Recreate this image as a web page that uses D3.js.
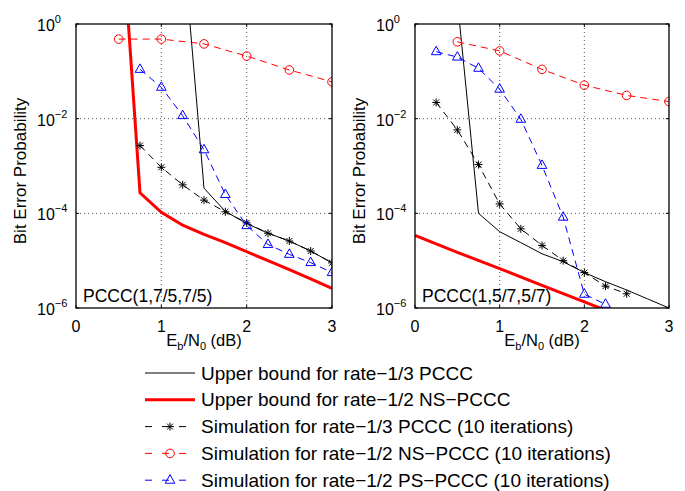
<!DOCTYPE html>
<html>
<head>
<meta charset="utf-8">
<script src="https://cdn.jsdelivr.net/npm/d3@7"></script>
<style>
  body { margin: 0; background: #fff; }
  text { font-family: "Liberation Sans", Arial, sans-serif; fill: #000; }
</style>
</head>
<body>
<script>
// Tick labels
var xTicks = [0, 1, 2, 3];
var yTicks = [1, 1e-2, 1e-4, 1e-6];
var yTickExp = ['0', '\u22122', '\u22124', '\u22126'];

// Left panel: PCCC(1,7/5,7/5)
var leftBound13X = [1.25, 1.5, 1.75, 2, 2.25, 2.5, 2.75, 3];
var leftBound13 = [66, 3.4e-4, 1.1e-4, 6.1e-5, 3.8e-5, 2.6e-5, 1.6e-5, 9e-6];
var leftBound12X = [0.5, 0.75, 1, 1.25, 1.5, 1.75, 2, 2.25, 2.5, 2.75, 3];
var leftBound12 = [1000, 2.7e-4, 1.05e-4, 5.6e-5, 3.6e-5, 2.4e-5, 1.55e-5, 1.0e-5, 6.5e-6, 4.1e-6, 2.6e-6];
var leftSim13X = [0.75, 1, 1.25, 1.5, 1.75, 2, 2.25, 2.5, 2.75, 3];
var leftSim13 = [2.7e-3, 9.4e-4, 4e-4, 1.9e-4, 1.08e-4, 6.3e-5, 3.8e-5, 2.6e-5, 1.6e-5, 9e-6];
var leftSimNSX = [0.5, 1, 1.5, 2, 2.5, 3];
var leftSimNS = [0.48, 0.48, 0.38, 0.21, 0.107, 0.060];
var leftSimPSX = [0.75, 1, 1.25, 1.5, 1.75, 2, 2.25, 2.5, 2.75, 3];
var leftSimPS = [0.11, 0.046, 0.0116, 2.2e-3, 2.5e-4, 5.5e-5, 2.2e-5, 1.36e-5, 9.1e-6, 5.6e-6];

// Right panel: PCCC(1,5/7,5/7)
var rightBound13X = [0.5, 0.75, 1, 1.25, 1.5, 1.75, 2, 2.25, 2.5, 2.75, 3];
var rightBound13 = [3.2, 1e-4, 4.1e-5, 2.4e-5, 1.4e-5, 9.5e-6, 5.6e-6, 3.6e-6, 2.4e-6, 1.55e-6, 1e-6];
var rightBound12X = [0, 0.5, 1, 1.5, 2, 2.5, 3];
var rightBound12 = [3.4e-5, 1.5e-5, 6.8e-6, 3.0e-6, 1.35e-6, 6e-7, 2.7e-7];
var rightSim13X = [0.25, 0.5, 0.75, 1, 1.25, 1.5, 1.75, 2, 2.25, 2.5];
var rightSim13 = [0.022, 5.8e-3, 1.07e-3, 1.58e-4, 4.7e-5, 2.1e-5, 1.0e-5, 5.6e-6, 2.9e-6, 2.0e-6];
var rightSimNSX = [0.5, 1, 1.5, 2, 2.5, 3];
var rightSimNS = [0.42, 0.27, 0.11, 0.051, 0.031, 0.023];
var rightSimPSX = [0.25, 0.5, 0.75, 1, 1.25, 1.5, 1.75, 2, 2.25];
var rightSimPS = [0.26, 0.20, 0.116, 0.042, 9.7e-3, 1.03e-3, 8.3e-5, 1.95e-6, 1.2e-6];

var legendLabels = [
  'Upper bound for rate\u22121/3 PCCC',
  'Upper bound for rate\u22121/2 NS\u2212PCCC',
  'Simulation for rate\u22121/3 PCCC (10 iterations)',
  'Simulation for rate\u22121/2 NS\u2212PCCC (10 iterations)',
  'Simulation for rate\u22121/2 PS\u2212PCCC (10 iterations)'
];

// styles per series, in legend order
var styles = [
  {color: '#000', width: 1, dash: null, marker: null},
  {color: '#ff0000', width: 3, dash: null, marker: null},
  {color: '#000', width: 1, dash: '7,5', marker: 'star'},
  {color: '#ff0000', width: 1, dash: '7,5', marker: 'circle'},
  {color: '#0000ff', width: 1, dash: '7,5', marker: 'triangle'}
];

function zipXY(xs, ys) {
  return xs.map(function(x, i) { return {x: x, y: ys[i]}; });
}

var panels = [
  {
    label: 'PCCC(1,7/5,7/5)', x0: 76, x1: 332,
    series: [zipXY(leftBound13X, leftBound13), zipXY(leftBound12X, leftBound12),
             zipXY(leftSim13X, leftSim13), zipXY(leftSimNSX, leftSimNS), zipXY(leftSimPSX, leftSimPS)]
  },
  {
    label: 'PCCC(1,5/7,5/7)', x0: 415, x1: 669,
    series: [zipXY(rightBound13X, rightBound13), zipXY(rightBound12X, rightBound12),
             zipXY(rightSim13X, rightSim13), zipXY(rightSimNSX, rightSimNS), zipXY(rightSimPSX, rightSimPS)]
  }
];

// note: "top" is taken by window.top, so use other names
var plotTop = 24, plotBottom = 308;

var svg = d3.select('body').append('svg')
  .attr('width', 685)
  .attr('height', 491);

var y = d3.scaleLog().domain([1e-6, 1]).range([plotBottom, plotTop]);

function markerPath(type) {
  if (type === 'star') return 'M-4,0H4M0,-4V4M-3,-3L3,3M-3,3L3,-3';
  if (type === 'triangle') return 'M0,-5.5L4.8,3L-4.8,3Z';
  return null;
}

function drawMarker(g, type, color) {
  if (type === 'circle') {
    g.append('circle').attr('r', 4.3).attr('fill', 'none')
      .attr('stroke', color).attr('stroke-width', 1);
  } else {
    g.append('path').attr('d', markerPath(type)).attr('fill', 'none')
      .attr('stroke', color).attr('stroke-width', 1);
  }
}

panels.forEach(function(p, pi) {
  var x = d3.scaleLinear().domain([0, 3]).range([p.x0, p.x1]);
  var g = svg.append('g');

  var clipId = 'clip' + pi;
  svg.append('clipPath').attr('id', clipId)
    .append('rect')
      .attr('x', p.x0).attr('y', plotTop)
      .attr('width', p.x1 - p.x0).attr('height', plotBottom - plotTop);

  // dotted grid
  g.selectAll('.gx').data(xTicks.slice(1, -1)).enter().append('line')
    .attr('x1', function(d) { return x(d); }).attr('x2', function(d) { return x(d); })
    .attr('y1', plotTop).attr('y2', plotBottom)
    .attr('stroke', '#555').attr('stroke-width', 1).attr('stroke-dasharray', '1,3');
  g.selectAll('.gy').data(yTicks.slice(1, -1)).enter().append('line')
    .attr('x1', p.x0).attr('x2', p.x1)
    .attr('y1', function(d) { return y(d); }).attr('y2', function(d) { return y(d); })
    .attr('stroke', '#555').attr('stroke-width', 1).attr('stroke-dasharray', '1,3');

  // series
  var line = d3.line()
    .x(function(d) { return x(d.x); })
    .y(function(d) { return y(d.y); });

  var plot = g.append('g').attr('clip-path', 'url(#' + clipId + ')');
  p.series.forEach(function(data, si) {
    var st = styles[si];
    plot.append('path')
      .datum(data)
      .attr('d', line)
      .attr('fill', 'none')
      .attr('stroke', st.color)
      .attr('stroke-width', st.width)
      .attr('stroke-dasharray', st.dash);
  });
  p.series.forEach(function(data, si) {
    var st = styles[si];
    if (!st.marker) return;
    plot.selectAll('.m' + si).data(data).enter().append('g')
      .attr('transform', function(d) { return 'translate(' + x(d.x) + ',' + y(d.y) + ')'; })
      .each(function() { drawMarker(d3.select(this), st.marker, st.color); });
  });

  // box
  g.append('rect')
    .attr('x', p.x0).attr('y', plotTop)
    .attr('width', p.x1 - p.x0).attr('height', plotBottom - plotTop)
    .attr('fill', 'none').attr('stroke', '#000').attr('stroke-width', 1.3);

  // ticks on all four sides
  xTicks.forEach(function(t) {
    g.append('line').attr('x1', x(t)).attr('x2', x(t)).attr('y1', plotBottom).attr('y2', plotBottom - 3).attr('stroke', '#000');
    g.append('line').attr('x1', x(t)).attr('x2', x(t)).attr('y1', plotTop).attr('y2', plotTop + 3).attr('stroke', '#000');
  });
  yTicks.forEach(function(t) {
    g.append('line').attr('x1', p.x0).attr('x2', p.x0 + 3).attr('y1', y(t)).attr('y2', y(t)).attr('stroke', '#000');
    g.append('line').attr('x1', p.x1).attr('x2', p.x1 - 3).attr('y1', y(t)).attr('y2', y(t)).attr('stroke', '#000');
  });

  // x tick labels
  g.selectAll('.xl').data(xTicks).enter().append('text')
    .attr('x', function(d) { return x(d); })
    .attr('y', 332)
    .attr('text-anchor', 'middle')
    .style('font-size', '16px')
    .text(function(d) { return d; });

  // y tick labels
  yTicks.forEach(function(t, i) {
    var tx = g.append('text')
      .attr('x', p.x0 - 39)
      .attr('y', y(t) + 7)
      .style('font-size', '16px');
    tx.append('tspan').text('10');
    tx.append('tspan').attr('dy', -8).style('font-size', '11px').text(yTickExp[i]);
  });

  // axis labels
  var xl = g.append('text')
    .attr('x', (p.x0 + p.x1) / 2)
    .attr('y', 346)
    .attr('text-anchor', 'middle')
    .style('font-size', '16.5px');
  xl.append('tspan').text('E');
  xl.append('tspan').attr('dy', 4).style('font-size', '11px').text('b');
  xl.append('tspan').attr('dy', -4).text('/N');
  xl.append('tspan').attr('dy', 4).style('font-size', '11px').text('0');
  xl.append('tspan').attr('dy', -4).text(' (dB)');

  g.append('text')
    .attr('transform', 'translate(' + (p.x0 - 50) + ',' + ((plotTop + plotBottom) / 2 + 5) + ') rotate(-90)')
    .attr('text-anchor', 'middle')
    .style('font-size', '17px')
    .text('Bit Error Probability');

  g.append('text')
    .attr('x', p.x0 + 7)
    .attr('y', 302)
    .style('font-size', '17.5px')
    .text(p.label);
});

// legend
var legend = svg.append('g');
legendLabels.forEach(function(lab, i) {
  var st = styles[i];
  var ly = 373 + i * 26.8;
  legend.append('line')
    .attr('x1', 145).attr('x2', 195)
    .attr('y1', ly).attr('y2', ly)
    .attr('stroke', st.color)
    .attr('stroke-width', st.width)
    .attr('stroke-dasharray', st.dash ? '7,10' : null);
  if (st.marker) {
    var mg = legend.append('g').attr('transform', 'translate(170,' + ly + ')');
    drawMarker(mg, st.marker, st.color);
  }
  legend.append('text')
    .attr('x', 201)
    .attr('y', ly + 6.5)
    .style('font-size', '19px')
    .text(lab);
});
</script>
</body>
</html>
